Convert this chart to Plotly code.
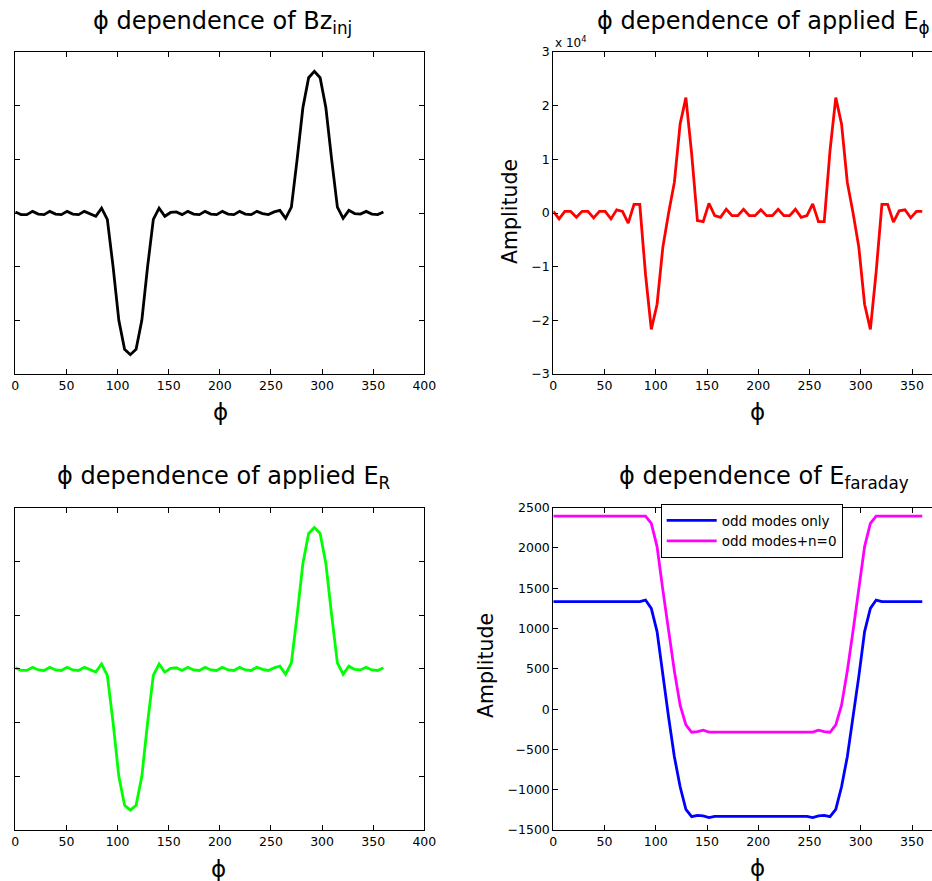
import plotly.graph_objects as go

# ---------------- data ----------------
phi = [0, 5.625, 11.25, 16.875, 22.5, 28.125, 33.75, 39.375, 45, 50.625, 56.25, 61.875,
       67.5, 73.125, 78.75, 84.375, 90, 95.625, 101.25, 106.875, 112.5, 118.125, 123.75,
       129.375, 135, 140.625, 146.25, 151.875, 157.5, 163.125, 168.75, 174.375, 180,
       185.625, 191.25, 196.875, 202.5, 208.125, 213.75, 219.375, 225, 230.625, 236.25,
       241.875, 247.5, 253.125, 258.75, 264.375, 270, 275.625, 281.25, 286.875, 292.5,
       298.125, 303.75, 309.375, 315, 320.625, 326.25, 331.875, 337.5, 343.125, 348.75,
       354.375, 360]

bz_inj = [0.02, -0.03, -0.03, 0.03, -0.02, -0.03, 0.03, -0.02, -0.03, 0.03, -0.02, -0.03,
          0.03, -0.01, -0.06, 0.09, -0.12, -1.00, -2.00, -2.54, -2.64, -2.54, -2.00,
          -1.00, -0.12, 0.09, -0.06, 0.01, 0.02, -0.03, 0.03, -0.02, -0.03, 0.03, -0.02,
          -0.03, 0.03, -0.02, -0.03, 0.03, -0.02, -0.03, 0.03, -0.01, -0.03, 0.02, 0.05,
          -0.10, 0.11, 1.00, 1.96, 2.52, 2.64, 2.52, 1.96, 1.00, 0.11, -0.10, 0.05, -0.01,
          -0.02, 0.03, -0.02, -0.03, 0.02]

e_r = [0.02, -0.03, -0.03, 0.03, -0.02, -0.03, 0.03, -0.02, -0.03, 0.03, -0.02, -0.03,
       0.03, -0.01, -0.06, 0.09, -0.12, -1.00, -2.00, -2.54, -2.63, -2.54, -2.00,
       -1.00, -0.12, 0.09, -0.06, 0.01, 0.02, -0.03, 0.03, -0.02, -0.03, 0.03, -0.02,
       -0.03, 0.03, -0.02, -0.03, 0.03, -0.02, -0.03, 0.03, -0.01, -0.03, 0.02, 0.05,
       -0.10, 0.11, 1.00, 1.96, 2.52, 2.63, 2.52, 1.96, 1.00, 0.11, -0.10, 0.05, -0.01,
       -0.02, 0.03, -0.02, -0.03, 0.02]

e_phi = [300, -1100, 300, 300, -800, 300, 300, -900, 300, 300, -1100, 600, 300, -1900,
         1600, 1600, -11500, -21700, -17000, -6400, 0, 5700, 16600, 21500, 11000, -1400,
         -1600, 1800, -500, -800, 700, -500, -500, 700, -500, -500, 600, -500, -500, 700,
         -500, -500, 700, -800, -500, 1700, -1600, -1600, 11600, 21500, 16600, 5700, 0,
         -6400, -17000, -21700, -11000, 1600, 1600, -1700, 400, 600, -900, 300, 300]

odd_modes = [1334, 1334, 1334, 1334, 1334, 1334, 1334, 1334, 1334, 1334, 1334, 1334, 1334,
             1334, 1334, 1334, 1354, 1251, 963, 410, -100, -590, -963, -1244, -1335, -1318,
             -1325, -1345, -1330, -1330, -1330, -1330, -1330, -1330, -1330, -1330, -1330,
             -1330, -1330, -1330, -1330, -1330, -1330, -1330, -1330, -1345, -1325, -1318,
             -1335, -1244, -963, -590, -100, 410, 963, 1251, 1354, 1334, 1334, 1334, 1334,
             1334, 1334, 1334, 1334]

odd_modes_n0 = [2395, 2395, 2395, 2395, 2395, 2395, 2395, 2395, 2395, 2395, 2395, 2395,
                2395, 2395, 2395, 2395, 2395, 2306, 2017, 1480, 975, 475, 50, -196, -287,
                -280, -262, -285, -285, -285, -285, -285, -285, -285, -285, -285, -285,
                -285, -285, -285, -285, -285, -285, -285, -285, -285, -262, -280, -287,
                -196, 50, 475, 975, 1480, 2017, 2306, 2395, 2395, 2395, 2395, 2395, 2395,
                2395, 2395, 2395]

x_ticks_left = [0, 50, 100, 150, 200, 250, 300, 350, 400]
x_ticks_right = [0, 50, 100, 150, 200, 250, 300, 350]
y_ticks_left = [-3, -2, -1, 0, 1, 2, 3]
y_ticks_ephi = [-30000, -20000, -10000, 0, 10000, 20000, 30000]
y_labels_ephi = ["\u22123", "\u22122", "\u22121", "0", "1", "2", "3"]
y_ticks_far = [-1500, -1000, -500, 0, 500, 1000, 1500, 2000, 2500]
y_labels_far = ["\u22121500", "\u22121000", "\u2212500", "0", "500", "1000", "1500", "2000", "2500"]

# ---------------- figure ----------------
W, H = 932, 881
FONT = "DejaVu Sans"


def px_x(p):
    return p / W


def px_y(p):
    return 1 - p / H


fig = go.Figure()
LW = 2.8
fig.add_trace(go.Scatter(x=phi, y=bz_inj, mode="lines", line=dict(color="black", width=LW),
                         xaxis="x", yaxis="y", showlegend=False))
fig.add_trace(go.Scatter(x=phi, y=e_phi, mode="lines", line=dict(color="#ff0000", width=LW),
                         xaxis="x2", yaxis="y2", showlegend=False))
fig.add_trace(go.Scatter(x=phi, y=e_r, mode="lines", line=dict(color="#00ff00", width=LW),
                         xaxis="x3", yaxis="y3", showlegend=False))
fig.add_trace(go.Scatter(x=phi, y=odd_modes, mode="lines", name="odd modes only",
                         line=dict(color="#0000ff", width=LW), xaxis="x4", yaxis="y4"))
fig.add_trace(go.Scatter(x=phi, y=odd_modes_n0, mode="lines", name="odd modes+n=0",
                         line=dict(color="#ff00ff", width=LW), xaxis="x4", yaxis="y4"))

tickfont = dict(family=FONT, size=12.5, color="black")
common = dict(ticks="inside", ticklen=5, tickwidth=1, tickcolor="black", showline=True,
              linecolor="black", linewidth=1, showgrid=False, zeroline=False,
              tickfont=tickfont, automargin=False)

xl = [px_x(15.3), px_x(424.3)]
xr = [px_x(553.3), 1.0]
yt = [px_y(374), px_y(52)]
yb = [px_y(830), px_y(507.7)]
right_end = (W - 553.3) / 1.02486

fig.update_layout(
    xaxis=dict(domain=xl, range=[0, 400], tickvals=x_ticks_left, anchor="y", mirror="ticks", **common),
    yaxis=dict(domain=yt, range=[-3, 3], tickvals=y_ticks_left, anchor="x", mirror="ticks",
               showticklabels=False, **common),
    xaxis2=dict(domain=xr, range=[0, right_end], tickvals=x_ticks_right, anchor="y2", mirror="ticks", **common),
    yaxis2=dict(domain=yt, range=[-30000, 30000], tickvals=y_ticks_ephi, ticktext=y_labels_ephi,
                anchor="x2", mirror=False, **common),
    xaxis3=dict(domain=xl, range=[0, 400], tickvals=x_ticks_left, anchor="y3", mirror="ticks", **common),
    yaxis3=dict(domain=yb, range=[-3, 3], tickvals=y_ticks_left, anchor="x3", mirror="ticks",
                showticklabels=False, **common),
    xaxis4=dict(domain=xr, range=[0, right_end], tickvals=x_ticks_right, anchor="y4", mirror="ticks", **common),
    yaxis4=dict(domain=yb, range=[-1500, 2500], tickvals=y_ticks_far, ticktext=y_labels_far,
                anchor="x4", mirror=False, **common),
)

annots = []
TS = 24
# titles
for txt, cx, by in [
    ("\u03d5 dependence of Bz<sub>inj</sub>", 222.5, 40),
    ("\u03d5 dependence of applied E<sub>\u03d5</sub>", 763, 40),
    ("\u03d5 dependence of applied E<sub>R</sub>", 224, 495),
    ("\u03d5 dependence of E<sub>faraday</sub>", 764, 495),
]:
    annots.append(dict(text=txt, x=px_x(cx), y=px_y(by), xref="paper", yref="paper",
                       xanchor="center", yanchor="bottom", showarrow=False,
                       font=dict(family=FONT, size=TS, color="black")))
# x labels
for cx, cy in [(220, 412), (757, 412), (218, 869), (757, 868)]:
    annots.append(dict(text="\u03d5", x=px_x(cx), y=px_y(cy), xref="paper", yref="paper",
                       xanchor="center", yanchor="middle", showarrow=False,
                       font=dict(family=FONT, size=23, color="black")))
# y labels
for cx, cy in [(510, 211), (486, 666)]:
    annots.append(dict(text="Amplitude", x=px_x(cx), y=px_y(cy), xref="paper", yref="paper",
                       xanchor="center", yanchor="middle", showarrow=False, textangle=-90,
                       font=dict(family=FONT, size=20.5, color="black")))
# exponent
annots.append(dict(text="x 10<sup>4</sup>", x=px_x(553), y=px_y(42), xref="paper", yref="paper",
                   xanchor="left", yanchor="middle", showarrow=False,
                   font=dict(family=FONT, size=12, color="black")))

fig.update_layout(
    width=W, height=H, autosize=False, template="none",
    margin=dict(l=0, r=0, t=0, b=0, pad=0),
    paper_bgcolor="white", plot_bgcolor="white",
    annotations=annots,
    legend=dict(x=px_x(660.7), y=px_y(504), xanchor="left", yanchor="top",
                bordercolor="black", borderwidth=1, bgcolor="white",
                font=dict(family=FONT, size=13.5, color="black"),
                itemwidth=50, tracegroupgap=0),
    showlegend=True,
)

fig.write_html("out.html")
